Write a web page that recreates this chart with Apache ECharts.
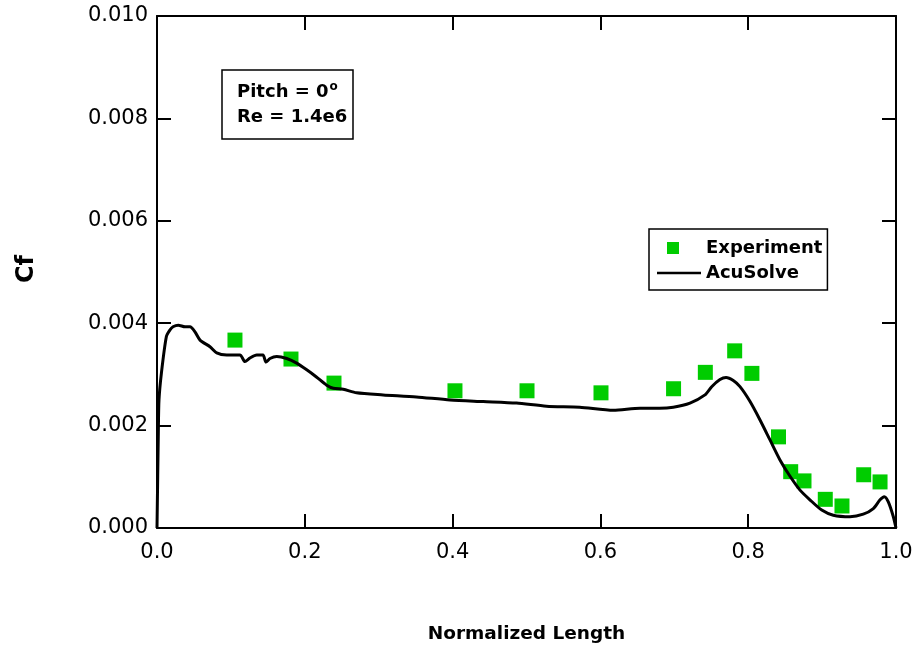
<!DOCTYPE html>
<html>
<head>
<meta charset="utf-8">
<title>Cf along normalized length</title>
<script src="https://cdn.jsdelivr.net/npm/echarts@6/dist/echarts.min.js"></script>
<style>
  html, body { margin: 0; padding: 0; background: #ffffff; }
  #chart { width: 919px; height: 651px; }
</style>
</head>
<body>
<div id="chart"></div>
<script>
// Measured skin-friction coefficient
const expX  = [0.1055, 0.1813, 0.2395, 0.4032, 0.5007, 0.6008, 0.699, 0.742, 0.7817, 0.805, 0.841, 0.8575, 0.8755, 0.9043, 0.9269, 0.9563, 0.9784];
const expCf = [0.00367, 0.00330, 0.00283, 0.00268, 0.00268, 0.00264, 0.00272, 0.00304, 0.00346, 0.00302, 0.00178, 0.00110, 0.00092, 0.00056, 0.00043, 0.00104, 0.00090];

// AcuSolve prediction
const acuX = [
  0.0, 0.0018, 0.0027, 0.006, 0.0127, 0.0176, 0.0217, 0.0288, 0.0379, 0.0447, 0.0514, 0.0582,
  0.0717, 0.0808, 0.0943, 0.1123, 0.119, 0.1258, 0.1349, 0.1434, 0.1475, 0.1529, 0.162,
  0.1755, 0.189, 0.2026, 0.2157, 0.2296, 0.2386, 0.252, 0.270, 0.306, 0.351, 0.3965,
  0.4415, 0.4865, 0.527, 0.572, 0.6175, 0.6536, 0.680, 0.6986, 0.7212, 0.7415, 0.7506,
  0.7618, 0.770, 0.7798, 0.7889, 0.8025, 0.8160, 0.8295, 0.843, 0.8566, 0.8701, 0.8836,
  0.8995, 0.9151, 0.9378, 0.9557, 0.9693, 0.9784, 0.9842, 0.9896, 0.9964, 1.0
];
const acuCf = [
  0.0, 0.00186, 0.00250, 0.00303, 0.00374, 0.00387, 0.00393, 0.00396, 0.00393, 0.00393, 0.00383, 0.00367,
  0.00354, 0.00342, 0.00338, 0.00338, 0.00325, 0.00332, 0.00338, 0.00338, 0.00324, 0.00331, 0.00335,
  0.00331, 0.00322, 0.00309, 0.00295, 0.00279, 0.00273, 0.00271, 0.00264, 0.00260, 0.00256, 0.00250,
  0.00247, 0.00244, 0.00238, 0.00236, 0.00230, 0.00234, 0.00234, 0.00236, 0.00244, 0.00260, 0.00276,
  0.00290, 0.00294, 0.00288, 0.00276, 0.00247, 0.00211, 0.00172, 0.00133, 0.00101, 0.00074, 0.00055,
  0.00035, 0.00025, 0.00022, 0.00027, 0.00038, 0.00055, 0.00061, 0.00051, 0.00022, 0.0
];

const FONT = 'DejaVu Sans';
const chart = echarts.init(document.getElementById('chart'), null, { renderer: 'canvas' });

const frameLine = { show: true, onZero: false, lineStyle: { color: '#000', width: 2 } };
const innerTick = { show: true, inside: true, length: 14, lineStyle: { color: '#000', width: 2 } };

const option = {
  animation: false,
  backgroundColor: '#ffffff',
  textStyle: { fontFamily: FONT },
  grid: { left: 157, right: 23, top: 16, bottom: 123, containLabel: false },
  title: {
    text: 'Pitch = 0{sup|o}\nRe = 1.4e6',
    left: 222,
    top: 70,
    padding: [10, 6, 9, 15],
    borderColor: '#000',
    borderWidth: 1.5,
    textStyle: {
      fontFamily: FONT, fontSize: 18, fontWeight: 'bold', color: '#000', lineHeight: 25,
      rich: {
        sup: { fontFamily: FONT, fontSize: 12, color: '#000', padding: [0, 0, 12, 1] }
      }
    }
  },
  legend: {
    orient: 'vertical',
    left: 649,
    top: 229,
    padding: [10, 5, 8, 8],
    itemWidth: 44,
    itemHeight: 14,
    itemGap: 7,
    borderColor: '#000',
    borderWidth: 1.5,
    textStyle: { fontFamily: FONT, fontSize: 18, fontWeight: 'bold', color: '#000' },
    data: [
      { name: 'Experiment', icon: 'path://M0,0M10,0h12v12h-12zM44,12' },
      { name: 'AcuSolve', icon: 'path://M0,0h44v2.5h-44z', itemStyle: { color: '#000' } }
    ]
  },
  xAxis: [
    {
      type: 'value', min: 0, max: 1, interval: 0.2, position: 'bottom',
      name: 'Normalized Length', nameLocation: 'middle', nameGap: 97,
      nameTextStyle: { fontFamily: FONT, fontSize: 18.5, fontWeight: 'bold', color: '#000' },
      axisLine: frameLine, axisTick: innerTick, splitLine: { show: false },
      axisLabel: {
        color: '#000', fontFamily: FONT, fontSize: 21, margin: 14,
        formatter: v => v.toFixed(1)
      }
    },
    {
      type: 'value', min: 0, max: 1, interval: 0.2, position: 'top',
      axisLine: frameLine, axisTick: innerTick, splitLine: { show: false },
      axisLabel: { show: false }
    }
  ],
  yAxis: [
    {
      type: 'value', min: 0, max: 0.01, interval: 0.002, position: 'left',
      name: 'Cf', nameLocation: 'middle', nameGap: 118, nameRotate: 90,
      nameTextStyle: { fontFamily: FONT, fontSize: 24, fontWeight: 'bold', color: '#000', padding: [0, 0, 0, 6] },
      axisLine: frameLine, axisTick: innerTick, splitLine: { show: false },
      axisLabel: {
        color: '#000', fontFamily: FONT, fontSize: 21, margin: 9,
        formatter: v => v.toFixed(3)
      }
    },
    {
      type: 'value', min: 0, max: 0.01, interval: 0.002, position: 'right',
      axisLine: frameLine, axisTick: innerTick, splitLine: { show: false },
      axisLabel: { show: false }
    }
  ],
  series: [
    {
      name: 'Experiment',
      type: 'scatter',
      symbol: 'rect',
      symbolSize: 15,
      itemStyle: { color: '#00cc00', opacity: 1 },
      data: expX.map((x, i) => [x, expCf[i]]),
      z: 2
    },
    {
      name: 'AcuSolve',
      type: 'line',
      symbol: 'none',
      showSymbol: false,
      smooth: 0.25,
      itemStyle: { color: '#000' },
      lineStyle: { color: '#000', width: 3 },
      data: acuX.map((x, i) => [x, acuCf[i]]),
      z: 3
    }
  ]
};

chart.setOption(option);
</script>
</body>
</html>
